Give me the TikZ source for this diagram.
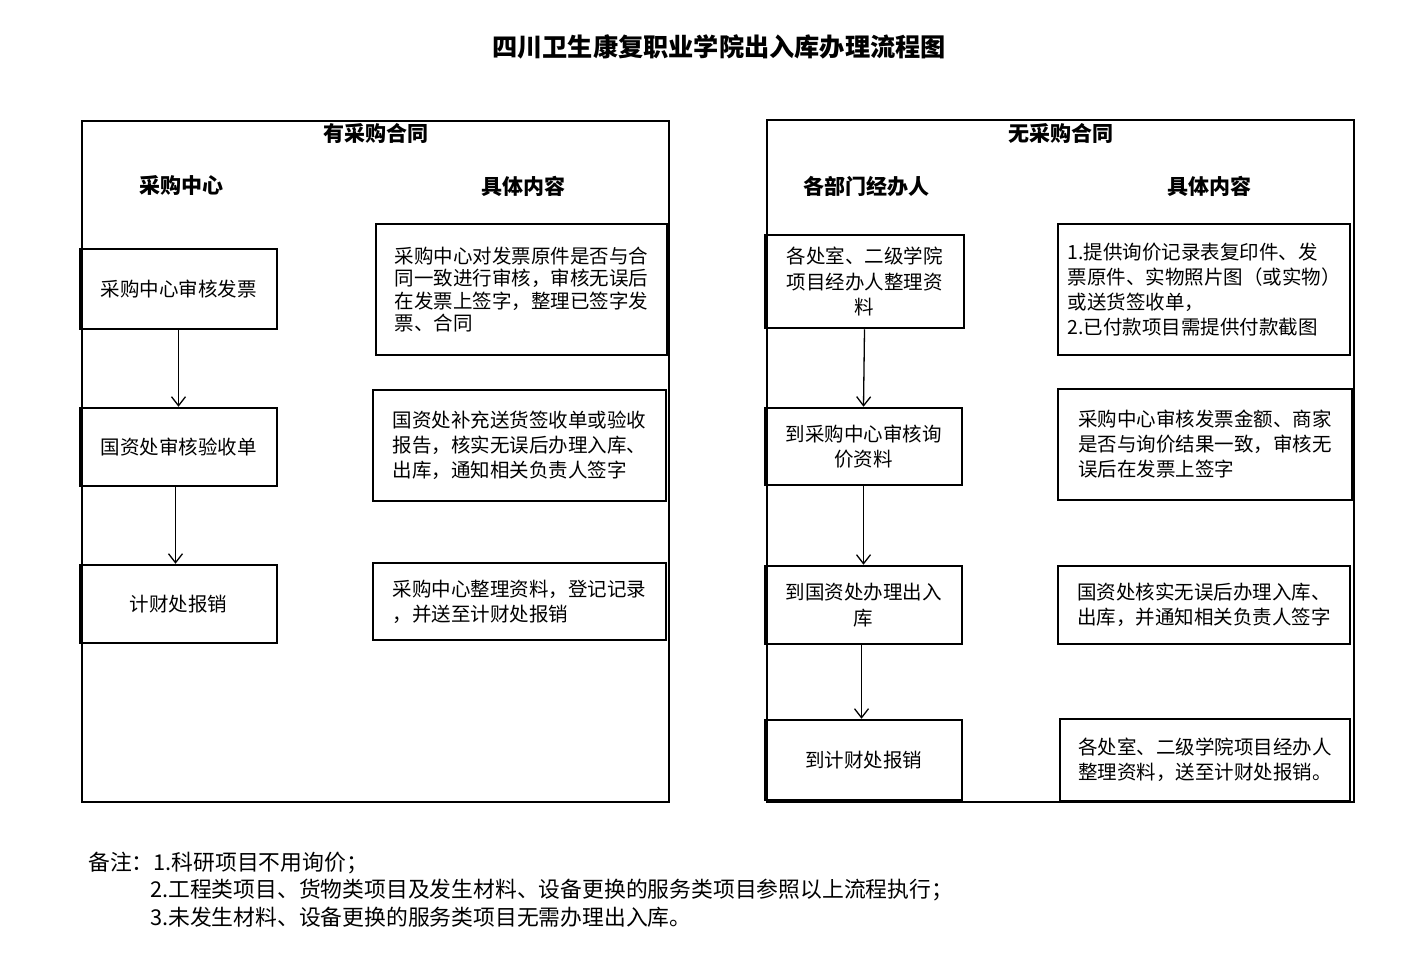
\documentclass[tikz,border=0pt]{standalone}
\usepackage{fontspec}
\setmainfont{Noto Sans CJK SC}
\usetikzlibrary{arrows.meta}
\begin{document}
\begin{tikzpicture}[x=1pt,y=-1pt,
  frame/.style={draw, line width=2pt, inner sep=0pt},
  proc/.style={draw, line width=2.5pt, inner sep=0pt, align=center, font=\fontsize{19.5}{25.5}\selectfont},
  info/.style={draw, line width=2.5pt, inner sep=0pt, align=left, font=\fontsize{19.5}{25}\selectfont},
  infotight/.style={info, font=\fontsize{19.5}{22.5}\selectfont},
  head/.style={font=\fontsize{21}{24}\selectfont\bfseries, inner sep=0pt},
  note/.style={font=\fontsize{21.8}{24}\selectfont, anchor=west, inner sep=0pt},
  arr/.style={-{Straight Barb[length=9pt,width=14pt]}, line width=1.3pt}
]
\fill[white] (0,0) rectangle (1420,961);
\useasboundingbox (0,0) rectangle (1420,961);

\node[font=\fontsize{25.2}{28}\selectfont\bfseries, inner sep=0pt] (title) at (719,47) {四川卫生康复职业学院出入库办理流程图};

% ---- left frame ----
\node[frame, minimum width=587pt, minimum height=681pt] (lframe) at (375.5,461.5) {};
\node[head] (lsec) at (376,133) {有采购合同};
\node[head] (lh1) at (181,186) {采购中心};
\node[head] (lh2) at (523,186) {具体内容};

\node[proc, minimum width=197pt, minimum height=80pt] (lb1) at (178.5,289) {采购中心审核发票};
\node[proc, minimum width=197pt, minimum height=78pt] (lb2) at (178.5,447) {国资处审核验收单};
\node[proc, minimum width=197pt, minimum height=78pt] (lb3) at (178.5,604) {计财处报销};

\node[infotight, minimum width=291pt, minimum height=131pt] (lc1) at (521.5,289.5) {采购中心对发票原件是否与合\\同一致进行审核，审核无误后\\在发票上签字，整理已签字发\\票、合同};
\node[info, minimum width=293pt, minimum height=111pt] (lc2) at (519.5,445.5) {国资处补充送货签收单或验收\\报告，核实无误后办理入库、\\出库，通知相关负责人签字};
\node[info, minimum width=293pt, minimum height=77pt] (lc3) at (519.5,601.5) {采购中心整理资料，登记记录\\，并送至计财处报销};

\draw[arr] (lb1.south) -- (lb2.north);
\draw[arr] ([xshift=-3pt]lb2.south) -- ([xshift=-3pt]lb3.north);

% ---- right frame ----
\node[frame, minimum width=587pt, minimum height=682pt] (rframe) at (1060.5,461) {};
\node[head] (rsec) at (1061,133) {无采购合同};
\node[head] (rh1) at (866,186) {各部门经办人};
\node[head] (rh2) at (1209,186) {具体内容};

\node[proc, minimum width=199pt, minimum height=93pt] (rb1) at (864.5,281.5) {各处室、二级学院\\项目经办人整理资\\料};
\node[proc, minimum width=197pt, minimum height=77pt] (rb2) at (863.5,446.5) {到采购中心审核询\\价资料};
\node[proc, minimum width=197pt, minimum height=78pt] (rb3) at (863.5,605) {到国资处办理出入\\库};
\node[proc, minimum width=197pt, minimum height=80pt] (rb4) at (863.5,760) {到计财处报销};

\node[info, minimum width=292pt, minimum height=131pt] (rc1) at (1204,289.5) {1.提供询价记录表复印件、发\\票原件、实物照片图（或实物）\\或送货签收单，\\2.已付款项目需提供付款截图};
\node[info, minimum width=294pt, minimum height=111pt] (rc2) at (1205,444.5) {采购中心审核发票金额、商家\\是否与询价结果一致，审核无\\误后在发票上签字};
\node[info, minimum width=292pt, minimum height=78pt] (rc3) at (1204,605) {国资处核实无误后办理入库、\\出库，并通知相关负责人签字};
\node[info, minimum width=290pt, minimum height=82pt] (rc4) at (1205,760) {各处室、二级学院项目经办人\\整理资料，送至计财处报销。};

\draw[arr] (rb1.south) -- (rb2.north);
\draw[arr] (rb2.south) -- (rb3.north);
\draw[arr] ([xshift=-2pt]rb3.south) -- ([xshift=-2pt]rb4.north);

% ---- notes ----
\node[note] (n1) at (88,863) {备注：1.科研项目不用询价；};
\node[note] (n2) at (150,890) {2.工程类项目、货物类项目及发生材料、设备更换的服务类项目参照以上流程执行；};
\node[note] (n3) at (150,917) {3.未发生材料、设备更换的服务类项目无需办理出入库。};
\end{tikzpicture}
\end{document}
